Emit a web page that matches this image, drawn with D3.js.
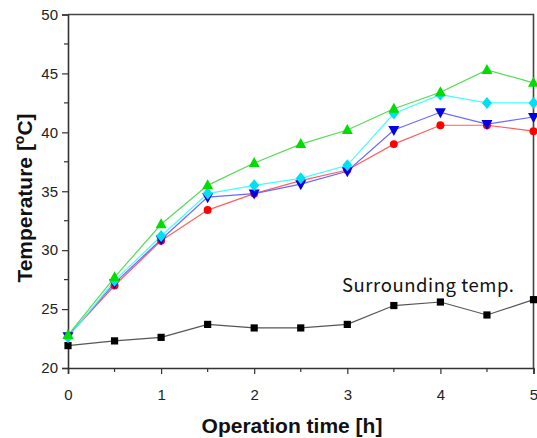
<!DOCTYPE html>
<html><head><meta charset="utf-8">
<script src="https://cdn.jsdelivr.net/npm/d3@7"></script>
<style>body{margin:0;background:#fff}svg{display:block}</style>
</head><body><svg id="c" width="537" height="438"></svg>
<script>
const times = [0,0.5,1,1.5,2,2.5,3,3.5,4,4.5,5];
const surrounding = [21.9,22.3,22.6,23.7,23.4,23.4,23.7,25.3,25.6,24.5,25.8];
const redSeries   = [22.7,27.0,30.8,33.4,34.8,35.9,36.8,39.0,40.6,40.6,40.1];
const blueSeries  = [22.7,27.2,30.9,34.5,34.8,35.6,36.7,40.2,41.7,40.7,41.3];
const cyanSeries  = [22.6,27.4,31.2,34.8,35.5,36.1,37.2,41.6,43.2,42.5,42.5];
const greenSeries = [22.8,27.7,32.2,35.5,37.4,39.0,40.2,42.0,43.4,45.3,44.2];
const xTicks = [0,1,2,3,4,5];
const yTicks = [20,25,30,35,40,45,50];
const annotation = "Surrounding temp.";

const svg = d3.select("#c");
const L=68,R=533.5,T=14.5,B=368;
const x = d3.scaleLinear().domain([0,5]).range([L,R]);
const y = d3.scaleLinear().domain([20,50]).range([B,T]);

const minorX = d3.range(0.5,5,1);
const minorY = d3.range(22.5,50,5);
svg.append("g").selectAll("line").data(minorX).join("line")
  .attr("x1",d=>x(d)).attr("x2",d=>x(d)).attr("y1",B).attr("y2",B+4)
  .attr("stroke","#333").attr("stroke-width",1.2);
svg.append("g").selectAll("line").data(minorY).join("line")
  .attr("y1",d=>y(d)).attr("y2",d=>y(d)).attr("x1",L).attr("x2",L-4)
  .attr("stroke","#333").attr("stroke-width",1.2);

const xa = svg.append("g").attr("transform",`translate(0,${B})`)
  .call(d3.axisBottom(x).tickValues(xTicks).tickSize(6).tickPadding(15).tickFormat(d3.format("d")));
const ya = svg.append("g").attr("transform",`translate(${L},0)`)
  .call(d3.axisLeft(y).tickValues(yTicks).tickSize(6).tickPadding(4).tickFormat(d3.format("d")));
[xa,ya].forEach(a=>{
  a.select(".domain").attr("stroke","#333").attr("stroke-width",1.6);
  a.selectAll(".tick line").attr("stroke","#333").attr("stroke-width",1.2);
  a.selectAll(".tick text").attr("font-family","Liberation Sans, Arial, sans-serif").attr("font-size",15).attr("fill","#222");
});
svg.append("path").attr("d",`M${L},${T}H${R}V${B}`).attr("fill","none").attr("stroke","#444").attr("stroke-width",1.6);

const series = [
  {v:surrounding,line:"#555",mark:"#000",shape:"square"},
  {v:redSeries,line:"#ff6060",mark:"#ff0000",shape:"circle"},
  {v:blueSeries,line:"#6a6aff",mark:"#0000e6",shape:"down"},
  {v:cyanSeries,line:"#40ffff",mark:"#00e0f0",shape:"diamond"},
  {v:greenSeries,line:"#55dd55",mark:"#00dd00",shape:"up"},
];
const line = d3.line().x((d,i)=>x(times[i])).y(d=>y(d));
const shapeFn = {
  square: ()=> "M-3.6,-3.6H3.6V3.6H-3.6Z",
  circle: ()=> d3.symbol(d3.symbolCircle,50)(),
  up: ()=> "M0,-6L5.5,4H-5.5Z",
  down: ()=> "M0,6L5.5,-4H-5.5Z",
  diamond: ()=> "M0,-6L5,0L0,6L-5,0Z"
};
series.forEach(s=>{
  svg.append("path").attr("d",line(s.v)).attr("fill","none").attr("stroke",s.line).attr("stroke-width",1.2);
});
series.forEach(s=>{
  svg.append("g").selectAll("path").data(s.v).join("path")
    .attr("transform",(d,i)=>`translate(${x(times[i])},${y(d)})`)
    .attr("d",shapeFn[s.shape]()).attr("fill",s.mark);
});

svg.append("text").attr("x",342).attr("y",292).attr("font-family","Noto Sans CJK KR, Noto Sans, sans-serif")
  .attr("font-size",18.5).attr("fill","#111").attr("textLength",172).attr("lengthAdjust","spacing").text(annotation);

svg.append("text").attr("x",292).attr("y",433).attr("text-anchor","middle")
  .attr("font-family","Liberation Sans, Arial, sans-serif").attr("font-weight","bold").attr("font-size",21)
  .attr("fill","#111").text("Operation time [h]");
const yl = svg.append("text").attr("transform","translate(32,198) rotate(-90)").attr("text-anchor","middle")
  .attr("font-family","Liberation Sans, Arial, sans-serif").attr("font-weight","bold").attr("font-size",21).attr("fill","#111");
yl.append("tspan").text("Temperature [");
yl.append("tspan").attr("dy",-8).attr("font-size",14).text("o");
yl.append("tspan").attr("dy",8).text("C]");
</script></body></html>
